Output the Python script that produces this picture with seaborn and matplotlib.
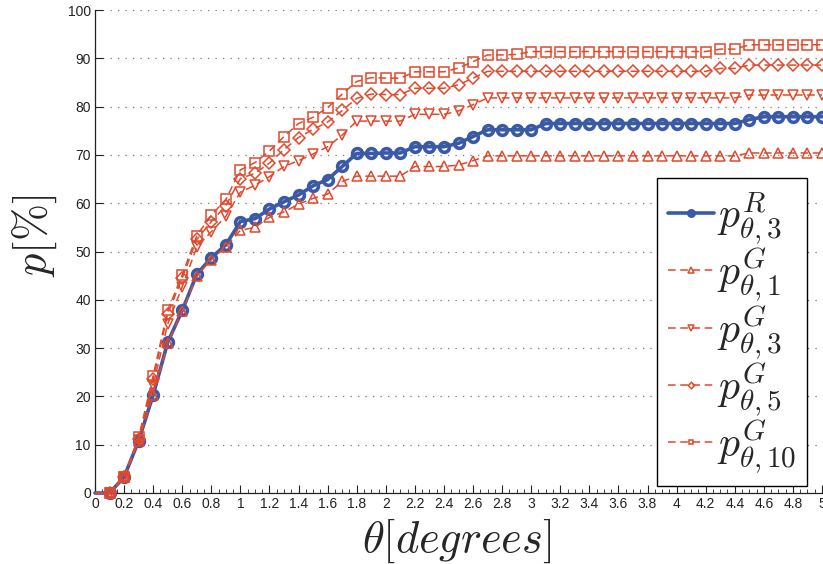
import numpy as np
import pandas as pd
import matplotlib
matplotlib.use("Agg")
import matplotlib.pyplot as plt
import seaborn as sns
from matplotlib.ticker import MultipleLocator

# ---------------- data ----------------
theta = [round(0.1 * i, 1) for i in range(0, 51)]  # 0.0 .. 5.0

p_R3 = [0.0,
        0.0, 3.3, 10.8, 20.3, 31.2, 37.8, 45.3, 48.7, 51.4, 56.2,
        56.8, 58.8, 60.3, 61.7, 63.6, 64.9, 67.6, 70.3, 70.3, 70.4,
        70.4, 71.7, 71.7, 71.7, 72.4, 73.8, 75.2, 75.2, 75.2, 75.2,
        76.5, 76.5, 76.5, 76.5, 76.5, 76.5, 76.5, 76.5, 76.5, 76.5,
        76.5, 76.5, 76.5, 76.5, 77.3, 77.9, 77.9, 77.9, 77.9, 77.9]

p_G1 = [0.0,
        0.0, 3.3, 10.8, 20.3, 31.0, 37.6, 45.0, 48.3, 51.0, 54.4,
        55.0, 57.1, 58.2, 59.8, 61.0, 61.9, 64.5, 65.6, 65.6, 65.6,
        65.6, 67.6, 67.6, 67.6, 67.9, 68.8, 69.8, 69.8, 69.8, 69.8,
        69.8, 69.8, 69.8, 69.8, 69.8, 69.8, 69.8, 69.8, 69.8, 69.8,
        69.8, 69.8, 69.8, 69.8, 70.4, 70.4, 70.4, 70.4, 70.4, 70.4]

p_G3 = [0.0,
        0.0, 3.3, 11.0, 22.3, 35.0, 42.7, 50.9, 54.1, 57.3, 62.3,
        63.7, 65.5, 67.6, 68.8, 70.2, 71.7, 74.1, 77.0, 77.0, 77.0,
        77.0, 78.4, 78.4, 78.4, 79.1, 80.4, 81.8, 81.8, 81.8, 81.8,
        81.8, 81.8, 81.8, 81.8, 81.8, 81.8, 81.8, 81.8, 81.8, 81.8,
        81.8, 81.8, 81.8, 81.8, 82.4, 82.4, 82.4, 82.4, 82.4, 82.4]

p_G5 = [0.0,
        0.0, 3.3, 11.2, 23.5, 37.1, 44.5, 52.5, 56.2, 59.5, 65.1,
        66.2, 68.3, 71.1, 73.6, 75.3, 76.8, 79.2, 81.7, 82.6, 82.5,
        82.5, 83.8, 83.8, 83.8, 84.5, 85.9, 87.3, 87.3, 87.3, 87.3,
        87.3, 87.3, 87.3, 87.3, 87.3, 87.3, 87.3, 87.3, 87.3, 87.3,
        87.3, 87.3, 87.9, 87.9, 88.6, 88.6, 88.6, 88.6, 88.6, 88.6]

p_G10 = [0.0,
         0.0, 3.4, 11.5, 24.3, 37.8, 45.2, 53.3, 57.5, 60.8, 66.9,
         68.4, 70.8, 73.8, 76.5, 77.8, 79.8, 82.6, 85.2, 86.0, 85.9,
         85.9, 87.2, 87.2, 87.2, 88.0, 89.3, 90.7, 90.7, 90.8, 91.4,
         91.4, 91.4, 91.4, 91.4, 91.4, 91.4, 91.4, 91.4, 91.4, 91.4,
         91.4, 91.4, 91.9, 91.9, 92.8, 92.8, 92.8, 92.8, 92.8, 92.8]

labels = [r"$p^{R}_{\theta,3}$", r"$p^{G}_{\theta,1}$", r"$p^{G}_{\theta,3}$",
          r"$p^{G}_{\theta,5}$", r"$p^{G}_{\theta,10}$"]
x_ticks = [round(0.2 * i, 1) for i in range(0, 26)]
x_tick_labels = ["0" if t == 0 else ("%g" % t) for t in x_ticks]
y_ticks = list(range(0, 101, 10))

# ---------------- style ----------------
sns.set_theme(style="white")
plt.rcParams["font.family"] = ["Liberation Sans", "DejaVu Sans"]
plt.rcParams["mathtext.fontset"] = "cm"

BLUE = "#3a5aa8"
RED = "#e2492c"

fig = plt.figure(figsize=(8.23, 5.64), dpi=100)
ax = fig.add_axes([95 / 823, 71 / 564, 727 / 823, 483 / 564])

series = [p_R3, p_G1, p_G3, p_G5, p_G10]
markers = ["o", "^", "v", "D", "s"]
msizes = [7, 7.5, 7.5, 6, 6.5]
handles = []
for i, (vals, mk, ms, lab) in enumerate(zip(series, markers, msizes, labels)):
    df = pd.DataFrame({"theta": theta, "p": vals})
    if i == 0:
        sns.lineplot(data=df, x="theta", y="p", ax=ax, color=BLUE, lw=2.6,
                     marker=mk, markersize=ms, markerfacecolor="none",
                     markeredgecolor=BLUE, markeredgewidth=2.6,
                     markevery=slice(1, None), clip_on=False, zorder=3)
    else:
        sns.lineplot(data=df, x="theta", y="p", ax=ax, color=RED, lw=1.1,
                     linestyle=(0, (5, 3)), marker=mk, markersize=ms,
                     markerfacecolor="none", markeredgecolor=RED,
                     markeredgewidth=1.1, markevery=slice(1, None),
                     clip_on=False, zorder=4)
    handles.append(ax.lines[-1])

ax.set_xlim(0, 5)
ax.set_ylim(0, 100)
ax.set_xticks(x_ticks)
ax.set_xticklabels(x_tick_labels)
ax.set_yticks(y_ticks)
ax.xaxis.set_minor_locator(MultipleLocator(0.05))
ax.tick_params(axis="both", which="major", direction="in", length=6,
               width=0.8, colors="#222222", labelsize=10, pad=3)
ax.tick_params(axis="x", which="minor", direction="in", length=3,
               width=0.6, colors="#222222")
ax.tick_params(axis="y", which="both", left=True)
ax.tick_params(axis="x", which="both", bottom=True)

ax.yaxis.grid(True, linestyle=(0, (1, 5)), color="#777777", lw=0.9)
ax.xaxis.grid(False)
ax.set_axisbelow(True)

for s in ["top", "right"]:
    ax.spines[s].set_visible(False)
for s in ["left", "bottom"]:
    ax.spines[s].set_color("#222222")
    ax.spines[s].set_linewidth(0.9)

ax.set_xlabel(r"$\theta[degrees]$", fontsize=32)
ax.set_ylabel(r"$p[\%]$", fontsize=32)
ax.xaxis.set_label_coords(0.498, -0.099, transform=ax.transAxes)
ax.xaxis.label.set_va("center")
ax.yaxis.set_label_coords(-0.084, 0.532, transform=ax.transAxes)
ax.yaxis.label.set_va("center")

leg = ax.legend(handles, labels, loc="upper left",
                bbox_to_anchor=(0.773, 0.652), borderaxespad=0,
                fontsize=30, frameon=True, fancybox=False,
                edgecolor="black", markerscale=0.55, handlelength=1.1,
                handletextpad=0.08, labelspacing=0.0, borderpad=0.26)
leg.get_frame().set_linewidth(1.0)
leg.get_frame().set_facecolor("white")
leg.get_frame().set_alpha(1.0)

fig.savefig("out.png", dpi=100)
